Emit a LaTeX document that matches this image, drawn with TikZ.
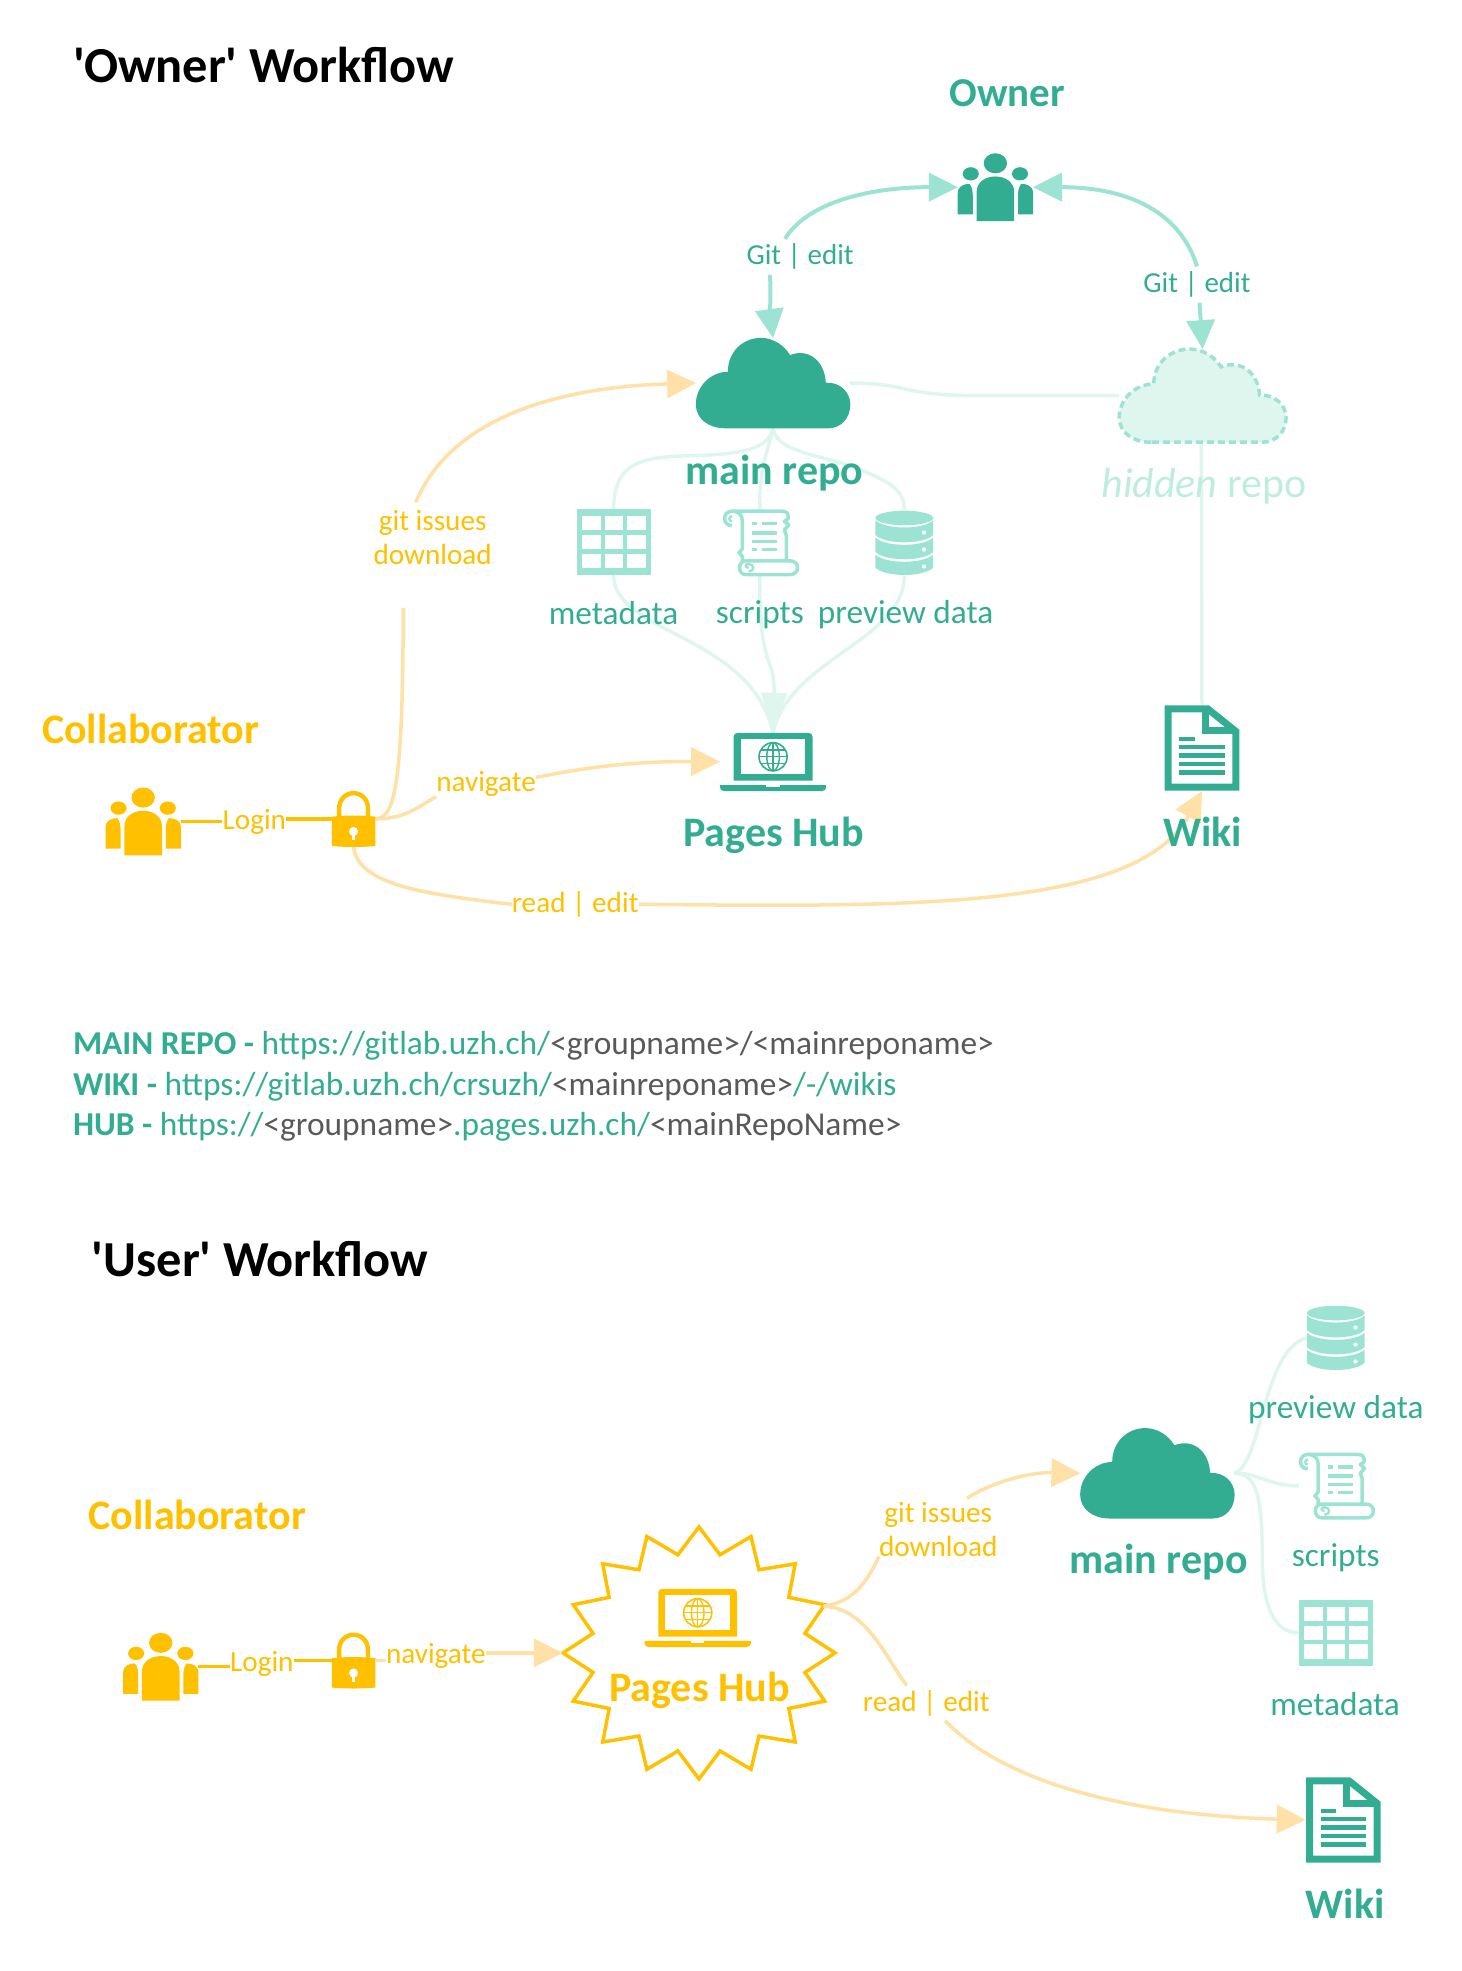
\documentclass[tikz,border=0pt]{standalone}
\usepackage{fontspec}
\setmainfont{Carlito}
\newfontfamily\plainfont{Carlito}
\usetikzlibrary{arrows.meta,shapes.geometric}
\definecolor{tealc}{HTML}{33AD92}
\definecolor{teallight}{HTML}{9DE3D4}
\definecolor{tealpale}{HTML}{DFF6EF}
\definecolor{tealtext}{HTML}{BEEDE0}
\definecolor{goldc}{HTML}{FFC000}
\definecolor{goldlight}{HTML}{FFE0A6}
\definecolor{greytext}{HTML}{595959}
\tikzstyle{iconbox}=[inner sep=0pt, outer sep=0pt]
\tikzstyle{peoplebox}=[iconbox, minimum width=75pt, minimum height=68pt]
\tikzstyle{lockbox}=[iconbox, minimum width=44pt, minimum height=56pt]
\tikzstyle{cloudbox}=[iconbox, minimum width=154pt, minimum height=90pt]
\tikzstyle{tablebox}=[iconbox, minimum width=74pt, minimum height=66pt]
\tikzstyle{laptopbox}=[iconbox, minimum width=106pt, minimum height=58pt]
\tikzstyle{docbox}=[iconbox, minimum width=75pt, minimum height=86pt]
\tikzstyle{titletext}=[font=\plainfont\bfseries\fontsize{50.4}{50.4}\selectfont, anchor=west, inner sep=0pt]
\tikzstyle{headteal}=[font=\bfseries\fontsize{42}{42}\selectfont, text=tealc, inner sep=0pt]
\tikzstyle{headgold}=[font=\bfseries\fontsize{42}{42}\selectfont, text=goldc, inner sep=0pt]
\tikzstyle{itemtext}=[font=\fontsize{33.3}{33.3}\selectfont, text=tealc, inner sep=0pt]
\tikzstyle{edgeteal}=[font=\fontsize{29}{29}\selectfont, text=tealc, inner sep=0pt]
\tikzstyle{edgegold}=[font=\fontsize{29.2}{34}\selectfont, text=goldc, inner sep=0pt, align=center]
\tikzstyle{linktext}=[font=\fontsize{33.4}{33.4}\selectfont, text=tealc, anchor=west, inner sep=0pt]
\tikzstyle{arrowteal}=[draw=teallight, line width=4pt, -{Triangle[length=29pt,width=28pt]}]
\tikzstyle{arrowgold}=[draw=goldlight, line width=3.5pt, -{Triangle[length=29pt,width=28pt]}]
\tikzstyle{linegold}=[draw=goldlight, line width=3.5pt]
\tikzstyle{linepale}=[draw=tealpale, line width=3.5pt]
\tikzstyle{linesolid}=[draw=goldc, line width=3.5pt]
\tikzset{
  pics/people/.style={code={
    \fill[#1] (0,-19) ellipse [x radius=9.3, y radius=8];
    \fill[#1] (-19.6,-10.6) ellipse [x radius=6.4, y radius=5.3];
    \fill[#1] (19.6,-10.6) ellipse [x radius=6.4, y radius=5.3];
    \fill[#1] (-15,27) -- (-15,4) .. controls (-15,-4) and (-8,-8.5) .. (0,-8.5)
      .. controls (8,-8.5) and (15,-4) .. (15,4) -- (15,27) -- cycle;
    \fill[#1] (-30,21.7) -- (-30,5) .. controls (-30,-1) and (-25,-2.6) .. (-20.5,-2.6)
      .. controls (-18,1) and (-18,4) .. (-18,8) -- (-18,21.7) -- cycle;
    \fill[#1] (30,21.7) -- (30,5) .. controls (30,-1) and (25,-2.6) .. (20.5,-2.6)
      .. controls (18,1) and (18,4) .. (18,8) -- (18,21.7) -- cycle;
  }},
  pics/padlock/.style={code={
    \draw[#1, line width=4.4pt] (-11.5,-1) -- (-11.5,-8) .. controls (-11.5,-16) and (-6,-20.5) .. (0,-20.5)
      .. controls (6,-20.5) and (11.5,-16) .. (11.5,-8) -- (11.5,-1);
    \fill[#1] (-17.3,-1.8) .. controls (-6,-3) and (6,-3) .. (17.3,-1.8) -- (17.3,21.6)
      .. controls (6,22.6) and (-6,22.6) .. (-17.3,21.6) -- cycle;
    \fill[white] (0,10) circle [radius=3.6];
    \fill[white] (-1.2,10) rectangle (1.2,17);
  }},
  pics/cloud/.style={code={
    \path[#1] (-38,36) .. controls (-52,36) and (-61.5,28) .. (-61.5,17)
      .. controls (-61.5,3) and (-50,-9) .. (-36,-9)
      .. controls (-36,-25) and (-24,-36) .. (-9.5,-36)
      .. controls (0,-36) and (9,-30) .. (13.5,-22.3)
      .. controls (28,-28) and (41,-18) .. (42,-0.3)
      .. controls (53,-1) and (61.5,7) .. (61.5,17)
      .. controls (61.5,28) and (54,36) .. (44,36) -- cycle;
  }},
  pics/gridtable/.style={code={
    \fill[#1] (-29.5,-26.5) rectangle (29.5,26.5);
    \foreach \cx in {-25.2,-7.2,10.8} {
      \foreach \cy in {-20.8,-5.8,9.2} {
        \fill[white] (\cx,\cy) rectangle ++(14.8,11.6);
      }
    }
  }},
  pics/scroll/.style={code={
    \draw[#1, line width=3.5pt, line join=round] (-22.3,-25) -- (18,-25) .. controls (22,-25) and (23,-22) .. (22.5,-19)
      -- (19.5,-17) -- (23,-14) -- (19.5,-10) -- (21,-6) -- (21,14.5);
    \draw[#1, line width=3.5pt] (-22.3,-13.5) .. controls (-30,-13.5) and (-30,-25) .. (-22.3,-25)
      .. controls (-16,-25) and (-14,-21) .. (-14,-17) -- (-14,5) -- (-16.5,8) -- (-14,11) -- (-14,14.5);
    \draw[#1, line width=2.4pt] (-22.3,-17) .. controls (-25,-17) and (-25,-21) .. (-22,-21);
    \draw[#1, line width=3.5pt] (-11,14.5) -- (24,14.5) .. controls (32,14.5) and (32,25.5) .. (24,25.5)
      -- (-11,25.5) .. controls (-18,25.5) and (-18,14.5) .. (-11,14.5);
    \draw[#1, line width=2.4pt] (-9,23) .. controls (-4,23) and (-4,17) .. (-9,17) .. controls (-12,17) and (-12,20) .. (-9,20);
    \draw[#1, line width=3.4pt] (-6.5,-15) -- (-2.5,-15) (2,-15) -- (14,-15);
    \draw[#1, line width=3.4pt] (-6.5,-7.7) -- (14,-7.7);
    \draw[#1, line width=3.4pt] (-6.5,-1) -- (14,-1);
    \draw[#1, line width=3.4pt] (-6.5,5.5) -- (-2.5,5.5) (2,5.5) -- (14,5.5);
  }},
  pics/database/.style={code={
    \fill[#1] (0,-19.6) ellipse [x radius=23, y radius=5.8];
    \fill[#1] (-23,-17.8) .. controls (-15,-10.1) and (15,-10.1) .. (23,-17.8) -- (23,-6)
      .. controls (15,1.7) and (-15,1.7) .. (-23,-6) -- cycle;
    \fill[#1] (-23,-4) .. controls (-15,3.7) and (15,3.7) .. (23,-4) -- (23,7.5)
      .. controls (15,15.2) and (-15,15.2) .. (-23,7.5) -- cycle;
    \fill[#1] (-23,9.5) .. controls (-15,17.2) and (15,17.2) .. (23,9.5) -- (23,20)
      .. controls (15,27.7) and (-15,27.7) .. (-23,20) -- cycle;
    \foreach \doty in {-8,5.5,19} {
      \fill[white] (15.7,\doty) circle [radius=1.7];
    }
  }},
  pics/laptop/.style={code={
    \fill[#1] (-31.4,15) -- (-31.4,-20) .. controls (-31.4,-22) and (-30,-23) .. (-28,-23) -- (28,-23)
      .. controls (30,-23) and (31.4,-22) .. (31.4,-20) -- (31.4,15) -- cycle;
    \fill[white] (-25.7,-18) rectangle (25.7,10);
    \fill[#1] (-42.3,18.5) -- (42.3,18.5) -- (42.3,20) .. controls (42.3,22) and (41,23.3) .. (39,23.3)
      -- (-39,23.3) .. controls (-41,23.3) and (-42.3,22) .. (-42.3,20) -- cycle;
    \fill[white] (-5.3,18.5) rectangle (5.3,20);
    \draw[#1, line width=1.6pt] (0,-4) circle [radius=11.2];
    \draw[#1, line width=1.4pt] (0,-4) ellipse [x radius=5, y radius=11.2];
    \draw[#1, line width=1.4pt] (0,-15.2) -- (0,7.2) (-11.2,-4) -- (11.2,-4) (-9.8,-9.5) -- (9.8,-9.5) (-9.8,1.5) -- (9.8,1.5);
  }},
  pics/document/.style={code={
    \draw[#1, line width=7pt, line join=miter] (-26.9,-31.2) -- (4.5,-31.2) -- (26.9,-13.2) -- (26.9,31.2) -- (-26.9,31.2) -- cycle;
    \draw[#1, line width=7pt] (2.9,-31) -- (2.9,-13.5) -- (26.9,-13.5);
    \draw[#1, line width=4.3pt] (-18,-7.4) -- (-5.8,-7.4);
    \foreach \ly in {-0.8,6.1,13,19.6} {
      \draw[#1, line width=4.3pt] (-18,\ly) -- (18,\ly);
    }
  }}
}
\begin{document}
\begin{tikzpicture}[x=1.256pt, y=-1.256pt]
  \useasboundingbox (0,0) rectangle (1164,1569.27);
  % owner workflow
  \begin{scope}
    \node (ownertitle) at (58,52)[titletext] {'Owner' Workflow};
    \node (ownerlabel) at (802,74)[headteal, font=\bfseries\fontsize{41}{41}\selectfont] {Owner};
    \node (owner) at (792.5,149)[peoplebox] {};
    \node (mainrepo) at (615.5,305)[cloudbox] {};
    \node (hiddenrepo) at (957.5,315)[cloudbox, minimum width=167pt, minimum height=93pt] {};
    \node (metadata) at (488.5,431.5)[tablebox] {};
    \node (scripts) at (605,432)[tablebox] {};
    \node (preview) at (720,432)[tablebox] {};
    \node (hub) at (615.5,606.5)[laptopbox] {};
    \node (wiki) at (957,595.5)[docbox] {};
    \node (collab) at (114,654)[peoplebox] {};
    \node (lock) at (281.5,652)[lockbox] {};
    \node (gitmain) at (637,204.5)[edgeteal] {Git | edit};
    \node (githidden) at (953,226.5)[edgeteal] {Git | edit};
    \node (gitissues) at (344.5,428)[edgegold] {git issues\\download};
    \node (login) at (202.5,654.6)[edgegold] {Login};
    \node (navigate) at (387,624)[edgegold] {navigate};
    \node (readedit) at (458,720)[edgegold] {read | edit};
    \coordinate (gitfoot) at (321,484);
    \coordinate (githead) at (331,400);
  \end{scope}
  \begin{scope}
    \path [linepale] (mainrepo.east) .. controls (725,305) and (715,315) .. (780,315) -- (hiddenrepo.west);
    \path [linepale] (hiddenrepo.south) ++(-1,-3) -- (wiki.north);
    \path [linepale] (mainrepo.south) .. controls (612,358) and (590,362) .. (545,363)
      .. controls (505,364) and (489,372) .. (metadata.north);
    \path [linepale] (mainrepo.south) .. controls (613,355) and (604,370) .. (scripts.north);
    \path [linepale] (mainrepo.south) .. controls (618,362) and (660,362) .. (690,376)
      .. controls (708,384) and (720,390) .. (preview.north);
    \path [linepale] (metadata.south) .. controls (489,505) and (598,505) .. (hub.north);
    \path [linepale] (preview.south) .. controls (720,510) and (628,525) .. (hub.north);
    \path [draw=tealpale, line width=3.5pt, -{Triangle[length=40pt,width=25pt]}] (scripts.south) .. controls (604,535) and (617,520) .. (hub.north);
    \path [arrowteal] (gitmain.north) ++(-12,-4) .. controls (645,158) and (700,149) .. (owner.west);
    \path [arrowteal] (gitmain.south) ++(-24,4) .. controls (614,235) and (613,250) .. (mainrepo.north);
    \path [arrowteal] (githidden.north) ++(0,-4) .. controls (940,170) and (900,149) .. (owner.east);
    \path [arrowteal] (githidden.south) ++(2,4) -- (hiddenrepo.north);
    \path [linesolid] (collab.east) -- (login.west |- collab.east);
    \path [linesolid] (login.east |- lock.west) -- (lock.west);
    \path [linegold] (lock.east) .. controls (312,650) and (321,640) .. (gitfoot);
    \path [arrowgold] (githead) .. controls (360,330) and (450,308) .. (mainrepo.west);
    \path [linegold] (lock.east) .. controls (320,652) and (330,645) .. (navigate.south west);
    \path [arrowgold] (navigate.east) ++(0,-5) .. controls (470,610) and (510,606) .. (hub.west);
    \path [linegold] (lock.south) .. controls (285,705) and (340,712) .. (readedit.west);
    \path [arrowgold] (readedit.east) .. controls (720,722) and (905,725) .. (wiki.south);
  \end{scope}
  \pic at (owner) {people=tealc};
  \pic at (mainrepo) {cloud={fill=tealc}};
  \pic[xscale=1.08, yscale=1.03] at (hiddenrepo) {cloud={fill=tealpale, draw=teallight, line width=3.5pt, dash pattern=on 7pt off 4pt}};
  \pic at (metadata) {gridtable=teallight};
  \pic at (scripts) {scroll=teallight};
  \pic at (preview) {database=teallight};
  \pic at (hub) {laptop=tealc};
  \pic at (wiki) {document=tealc};
  \pic at (collab) {people=goldc};
  \pic at (lock) {padlock=goldc};
  \node (mainname) at (616.5,377)[headteal] {main repo};
  \node (hiddenname) at (958.5,387)[headteal, text=tealtext] {\mdseries\itshape hidden \upshape repo};
  \node (metaname) at (488.5,488)[itemtext] {metadata};
  \node (scriptname) at (605,489.5)[itemtext] {scripts};
  \node (previewname) at (721,489.5)[itemtext] {preview data};
  \node (hubname) at (616,665)[headteal] {Pages Hub};
  \node (wikiname) at (957.5,662)[headteal] {Wiki};
  \node (collabname) at (120,580)[headgold] {Collaborator};
  % links
  \node (linkmain) at (58,833)[linktext] {\textbf{MAIN REPO - }https://gitlab.uzh.ch/\textcolor{greytext}{<groupname>/<mainreponame>}};
  \node (linkwiki) at (58,865)[linktext] {\textbf{WIKI - }https://gitlab.uzh.ch/crsuzh/\textcolor{greytext}{<mainreponame>}/-/wikis};
  \node (linkhub) at (58,897)[linktext] {\textbf{HUB - }https://\textcolor{greytext}{<groupname>}.pages.uzh.ch/\textcolor{greytext}{<mainRepoName>}};
  % user workflow
  \begin{scope}
    \node (usertitle) at (73,1002)[titletext] {'User' Workflow};
    \node (collabtwo) at (128,1327)[peoplebox] {};
    \node (locktwo) at (281.5,1322)[lockbox] {};
    \node (burst) at (556.5,1316)[star, star points=16, star point ratio=1.26, minimum size=252pt, inner sep=0pt, outer sep=0pt, xscale=1.08, draw=goldc, line width=3.5pt] {};
    \node (hubtwo) at (555.5,1288)[laptopbox] {};
    \node (maintwo) at (921.5,1173)[cloudbox] {};
    \node (previewtwo) at (1063.5,1065)[tablebox, minimum width=58pt] {};
    \node (scriptstwo) at (1063.5,1183)[tablebox] {};
    \node (metatwo) at (1063.5,1300)[tablebox] {};
    \node (wikitwo) at (1069.5,1449)[docbox] {};
    \node (logintwo) at (208.5,1324.5)[edgegold] {Login};
    \node (navtwo) at (347,1318.5)[edgegold] {navigate};
    \node (gittwo) at (747,1217.5)[edgegold] {git issues\\download};
    \node (readtwo) at (737.5,1356.5)[edgegold] {read | edit};
  \end{scope}
  \begin{scope}
    \path [linesolid] (collabtwo.east) -- (logintwo.west |- collabtwo.east);
    \path [linesolid] (logintwo.east |- locktwo.west) -- (locktwo.west);
    \path [linegold] (locktwo.east) -- (navtwo.west |- locktwo.east);
    \path [arrowgold] (navtwo.east |- burst.west) -- (burst.west);
    \path [linegold] (burst.22.5) .. controls (680,1275) and (690,1260) .. (gittwo.south west);
    \path [arrowgold] (gittwo.north) ++(23,-3) .. controls (790,1180) and (820,1172) .. (maintwo.west);
    \path [linegold] (burst.22.5) .. controls (690,1280) and (705,1320) .. (722,1342);
    \path [arrowgold] (readtwo.south) ++(15,3) .. controls (800,1420) and (900,1445) .. (wikitwo.west);
    \path [linepale] (maintwo.east) .. controls (1005,1165) and (1005,1075) .. (previewtwo.west);
    \path [linepale] (maintwo.east) .. controls (1000,1172) and (1010,1183) .. (scriptstwo.west);
    \path [linepale] (maintwo.east) .. controls (1000,1173) and (1005,1190) .. (1005,1240)
      .. controls (1005,1280) and (1015,1300) .. (metatwo.west);
  \end{scope}
  \pic at (collabtwo) {people=goldc};
  \pic at (locktwo) {padlock=goldc};
  \pic at (hubtwo) {laptop=goldc};
  \pic at (maintwo) {cloud={fill=tealc}};
  \pic at (previewtwo) {database=teallight};
  \pic at (scriptstwo) {scroll=teallight};
  \pic at (metatwo) {gridtable=teallight};
  \pic at (wikitwo) {document=tealc};
  \node (collabnametwo) at (157,1206)[headgold] {Collaborator};
  \node (hubnametwo) at (557,1346)[headgold] {Pages Hub};
  \node (mainnametwo) at (922.5,1244)[headteal] {main repo};
  \node (previewnametwo) at (1063.5,1122.5)[itemtext] {preview data};
  \node (scriptnametwo) at (1063.5,1240.5)[itemtext] {scripts};
  \node (metanametwo) at (1063,1356.5)[itemtext] {metadata};
  \node (wikinametwo) at (1071,1515.5)[headteal] {Wiki};
\end{tikzpicture}
\end{document}
